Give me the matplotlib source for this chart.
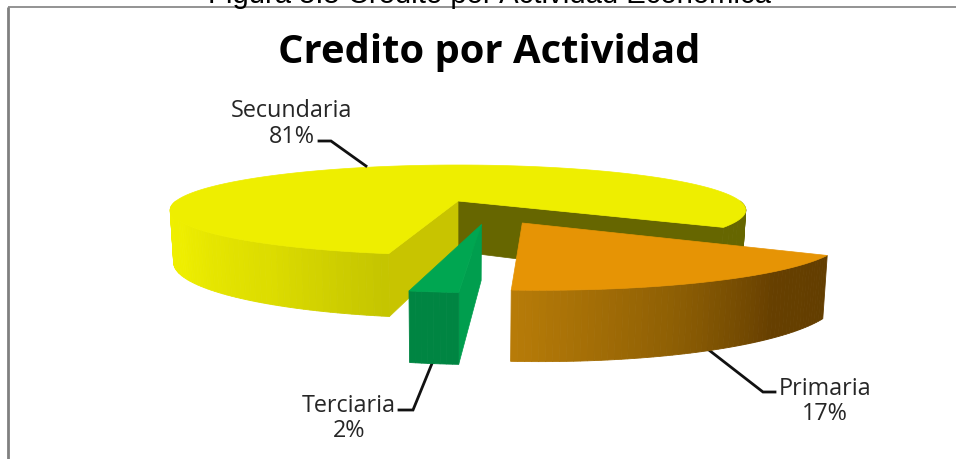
import numpy as np
import matplotlib
matplotlib.use("Agg")
import matplotlib.pyplot as plt

# ---- data ----
categories = ["Secundaria", "Terciaria", "Primaria"]
shares = [81, 2, 17]
pct_labels = ["81%", "2%", "17%"]

# ---- projection / style ----
W, H = 956, 460
X0, Y0 = 458.0, 202.0
A, B, P = 282.0, 43.2, 0.2
DEPTH = 50.5
BOTTOM_X = 0.988
START = -33.0
EXPLODE = {"Secundaria": (0.0, 0.0), "Terciaria": (0.075, -0.49), "Primaria": (0.207, -0.462)}
TOP = {"Secundaria": "#EEEE00", "Terciaria": "#00A651", "Primaria": "#E69405"}


def project(x, y, bottom=False):
    x, y = np.asarray(x, float), np.asarray(y, float)
    s = 1.0 / (1.0 + P * y)
    kx = BOTTOM_X if bottom else 1.0
    return X0 + A * x * s * kx, Y0 - B * y * s + (DEPTH * s if bottom else 0.0)


def mix(c1, c2, t):
    a, b = np.array(matplotlib.colors.to_rgb(c1)), np.array(matplotlib.colors.to_rgb(c2))
    return tuple(a + (b - a) * t)


fig = plt.figure(figsize=(W / 100, H / 100), dpi=100)
ax = fig.add_axes([0, 0, 1, 1])
ax.set_xlim(0, W)
ax.set_ylim(H, 0)
ax.axis("off")


def wall(name, t0, t1, stops, n=60, z=1):
    """outer wall between angles, shaded in bands (stops = [(frac, colour), ...])"""
    ex, ey = EXPLODE[name]
    edges = np.radians(np.linspace(t0, t1, n + 1))
    fr = [s[0] for s in stops]
    for i in range(n):
        th = np.linspace(edges[i], edges[i + 1], 3)
        xs, ys = np.cos(th) + ex, np.sin(th) + ey
        X1, Y1 = project(xs, ys)
        X2, Y2 = project(xs[::-1], ys[::-1], True)
        f = (i + 0.5) / n
        j = min(np.searchsorted(fr, f), len(stops) - 1)
        j = max(j, 1)
        c = mix(stops[j - 1][1], stops[j][1], (f - fr[j - 1]) / (fr[j] - fr[j - 1]))
        ax.fill(np.r_[X1, X2], np.r_[Y1, Y2], fc=c, ec=c, lw=0.6, zorder=z)


def cut(name, t, color, z=1):
    ex, ey = EXPLODE[name]
    th = np.radians(t)
    xs, ys = np.array([ex, np.cos(th) + ex]), np.array([ey, np.sin(th) + ey])
    X1, Y1 = project(xs, ys)
    X2, Y2 = project(xs[::-1], ys[::-1], True)
    ax.fill(np.r_[X1, X2], np.r_[Y1, Y2], fc=color, ec=color, lw=0.5, zorder=z)


def top(name, t0, t1, z=2):
    ex, ey = EXPLODE[name]
    th = np.radians(np.linspace(t0, t1, 240))
    xs, ys = np.r_[ex, np.cos(th) + ex], np.r_[ey, np.sin(th) + ey]
    X, Y = project(xs, ys)
    ax.fill(X, Y, fc=TOP[name], ec=TOP[name], lw=0.5, zorder=z)


# angles follow the values, running counter-clockwise from START
sweeps = np.array(shares) / sum(shares) * 360.0
ends = START + np.cumsum(sweeps)
starts = ends - sweeps
ang = {c: (a, b) for c, a, b in zip(categories, starts, ends)}

# Secundaria
a, b = ang["Secundaria"]
cut("Secundaria", a, "#666600", 1)
wall("Secundaria", a, 0, [(0, "#666600"), (1, "#666600")], n=12, z=1)
cut("Secundaria", b, "#C8C400", 1)
wall("Secundaria", 180, b, [(0, "#F0F000"), (0.35, "#EEEE00"), (0.72, "#DCDC00"), (1, "#C4C400")], z=1.5)
top("Secundaria", a, b, 2)

# Terciaria
a, b = ang["Terciaria"]
cut("Terciaria", b, "#009E4E", 3)
wall("Terciaria", a, b, [(0, "#008542"), (1, "#008542")], n=8, z=3)
top("Terciaria", a, b, 4)

# Primaria
a, b = ang["Primaria"]
wall("Primaria", a, b, [(0, "#B87C08"), (0.4, "#8E5F04"), (0.72, "#663F00"), (1, "#633E00")], z=5)
top("Primaria", a, b, 6)

# leader lines
leaders = [
    ([319, 331, 366], [142, 142, 167]),
    ([399, 413, 433], [411, 411, 362]),
    ([705, 763, 775], [348, 393, 393]),
]
for lx, ly in leaders:
    ax.plot(lx, ly, color="#111111", lw=2.0, solid_joinstyle="miter", zorder=2.5)

# labels
label_pos = {"Secundaria": (292, 111, 137), "Terciaria": (349, 406, 431), "Primaria": (825, 389, 414)}
for c, p in zip(categories, pct_labels):
    x, y1, y2 = label_pos[c]
    ax.text(x, y1, c, ha="center", va="center", fontsize=16.8, family="Open Sans", color="#262626", zorder=8)
    ax.text(x, y2, p, ha="center", va="center", fontsize=16.8, family="Open Sans", color="#262626", zorder=8)

# title and clipped caption
ax.text(489, 52, "Credito por Actividad", ha="center", va="center", fontsize=28.8,
        family="Open Sans", fontweight="bold", color="black")
ax.text(489, 3, "Figura 5.5 Credito por Actividad Económica", ha="center", va="baseline",
        fontsize=21.1, family="Liberation Sans", color="black")

# frame
ax.plot([8, 8], [H, 8], color="#808080", lw=2.0, solid_capstyle="butt")
ax.plot([8, W], [8, 8], color="#808080", lw=1.2, solid_capstyle="butt")

fig.savefig("out.png", dpi=100)
